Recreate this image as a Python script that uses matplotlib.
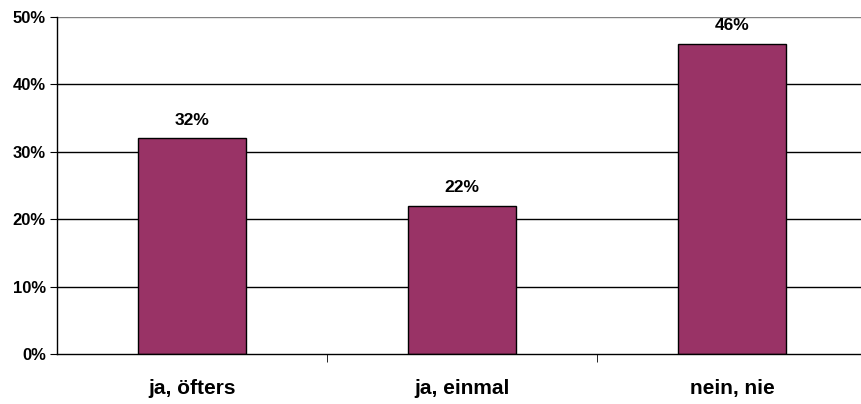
import matplotlib.pyplot as plt
import numpy as np

categories = ["ja, öfters", "ja, einmal", "nein, nie"]
values = [32, 22, 46]
yticks = [0, 10, 20, 30, 40, 50]

plt.rcParams['font.family'] = ['Liberation Sans', 'DejaVu Sans']
plt.rcParams['font.weight'] = 'bold'

fig = plt.figure(figsize=(8.61, 4.04), dpi=100)
ax = fig.add_axes([57/861, 50/404, 810/861, 337/404])

x = np.arange(len(categories))
for y in yticks[1:]:
    ax.axhline(y, color='#808080' if y == 50 else 'black', lw=1, zorder=0)
ax.bar(x, values, width=0.40, color='#993366', edgecolor='black', lw=1, zorder=2)
for xi, v in zip(x, values):
    ax.text(xi, v + 1.6, f"{v}%", ha='center', va='bottom', fontsize=12.5, fontweight='bold')

ax.set_xlim(-0.5, len(categories) - 0.5)
ax.set_ylim(0, 50)
ax.set_yticks(yticks)
ax.set_yticklabels([f"{t}%" for t in yticks], fontsize=12, fontweight='bold')
ax.set_xticks(x)
ax.set_xticklabels(categories, fontsize=15, fontweight='bold')
ax.tick_params(axis='x', length=0, pad=18)
ax.set_xticks([0.5, 1.5], minor=True)
ax.tick_params(axis='x', which='minor', length=6, direction='out', color='black')
ax.tick_params(axis='y', length=5, direction='out', color='black', pad=3)
for s in ['top', 'right']:
    ax.spines[s].set_visible(False)
ax.spines['left'].set_linewidth(1)
ax.spines['bottom'].set_linewidth(1)

fig.savefig('out.png', dpi=100)
